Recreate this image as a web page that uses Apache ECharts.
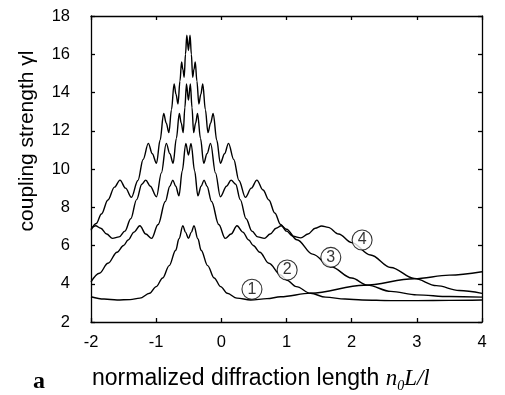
<!DOCTYPE html>
<html>
<head>
<meta charset="utf-8">
<script src="https://cdn.jsdelivr.net/npm/echarts@6/dist/echarts.min.js"></script>
<style>
html,body{margin:0;padding:0;background:#fff;}
#chart{width:505px;height:395px;}
</style>
</head>
<body>
<div id="chart"></div>
<script>
// x tick values and y tick values
var xTicks = [-2, -1, 0, 1, 2, 3, 4];
var yTicks = [2, 4, 6, 8, 10, 12, 14, 16, 18];

// curve 1 : [normalized diffraction length, coupling strength]
var curve1 = [[-2.0,3.32],[-1.8,3.2],[-1.6,3.15],[-1.4,3.17],[-1.25,3.25],[-1.1,3.5],[-1.0,3.85],[-0.9,4.3],[-0.8,4.95],[-0.7,5.75],[-0.65,6.35],[-0.59,7.03],[-0.55,6.7],[-0.505,6.37],[-0.46,6.7],[-0.42,7.03],[-0.36,6.35],[-0.31,5.75],[-0.21,4.95],[-0.11,4.3],[-0.01,3.85],[0.09,3.5],[0.24,3.25],[0.45,3.15],[0.7,3.22],[0.91,3.32],[1.37,3.51],[2.19,3.92],[2.96,4.26],[3.5,4.45],[4.0,4.63]];

// curve 2
var curve2 = [[-2.0,4.1],[-1.87,4.55],[-1.74,5.07],[-1.6,5.65],[-1.5,6.0],[-1.43,6.29],[-1.34,6.7],[-1.25,7.03],[-1.16,6.6],[-1.07,6.37],[-0.97,7.1],[-0.86,8.3],[-0.79,9.1],[-0.745,9.42],[-0.7,9.1],[-0.65,8.6],[-0.6,9.9],[-0.545,11.34],[-0.505,10.73],[-0.465,11.34],[-0.41,9.9],[-0.36,8.6],[-0.31,9.1],[-0.265,9.42],[-0.22,9.1],[-0.15,8.3],[-0.04,7.1],[0.06,6.37],[0.15,6.6],[0.24,7.03],[0.33,6.7],[0.42,6.29],[0.49,6.0],[0.59,5.65],[0.73,5.07],[0.91,4.46],[1.0,4.2],[1.15,3.85],[1.37,3.5],[1.6,3.3],[1.9,3.2],[2.16,3.15],[2.6,3.12],[3.0,3.12],[3.5,3.13],[4.0,3.15]];

// curve 3
var curve3 = [[-2.0,6.88],[-1.93,7.03],[-1.85,6.9],[-1.76,6.6],[-1.67,6.37],[-1.57,6.45],[-1.48,6.75],[-1.39,7.4],[-1.3,8.4],[-1.22,9.2],[-1.16,9.42],[-1.09,9.1],[-0.995,8.55],[-0.92,9.8],[-0.845,11.34],[-0.79,10.8],[-0.74,10.3],[-0.69,11.6],[-0.645,12.9],[-0.615,12.4],[-0.585,11.9],[-0.56,13.2],[-0.535,14.45],[-0.505,13.6],[-0.475,14.45],[-0.45,13.2],[-0.425,11.9],[-0.395,12.4],[-0.365,12.9],[-0.32,11.6],[-0.27,10.3],[-0.22,10.8],[-0.165,11.34],[-0.09,9.8],[-0.015,8.55],[0.08,9.1],[0.15,9.42],[0.22,9.2],[0.29,8.4],[0.38,7.4],[0.47,6.75],[0.56,6.45],[0.66,6.37],[0.75,6.6],[0.84,6.9],[0.92,7.03],[1.0,6.85],[1.16,6.3],[1.4,5.55],[1.68,4.89],[2.0,4.3],[2.24,3.93],[2.6,3.6],[3.0,3.42],[3.5,3.33],[4.0,3.3]];

// curve 4
var curve4 = [[-2.0,6.8],[-1.92,7.15],[-1.84,7.65],[-1.74,8.38],[-1.64,9.05],[-1.555,9.42],[-1.47,9.0],[-1.38,8.52],[-1.28,9.4],[-1.2,10.5],[-1.12,11.34],[-1.06,10.8],[-0.995,10.3],[-0.94,11.5],[-0.885,12.9],[-0.845,12.4],[-0.805,11.9],[-0.765,13.1],[-0.725,14.45],[-0.695,13.9],[-0.665,13.4],[-0.635,14.6],[-0.61,15.6],[-0.59,15.2],[-0.57,14.8],[-0.55,16.0],[-0.53,17.0],[-0.505,16.2],[-0.48,17.0],[-0.46,16.0],[-0.44,14.8],[-0.42,15.2],[-0.40,15.6],[-0.375,14.6],[-0.345,13.4],[-0.315,13.9],[-0.285,14.45],[-0.245,13.1],[-0.205,11.9],[-0.165,12.4],[-0.125,12.9],[-0.07,11.5],[-0.015,10.3],[0.05,10.8],[0.11,11.34],[0.19,10.5],[0.27,9.4],[0.37,8.52],[0.46,9.0],[0.545,9.42],[0.64,8.9],[0.73,8.38],[0.82,7.7],[0.91,7.1],[1.0,6.75],[1.1,6.48],[1.22,6.4],[1.33,6.6],[1.44,6.9],[1.54,7.02],[1.64,6.95],[1.8,6.6],[2.0,6.15],[2.29,5.5],[2.6,4.85],[2.96,4.28],[3.3,3.9],[3.65,3.65],[4.0,3.5]];

// circled curve labels: [x, y, text]
var curveLabels = [[0.47,3.71,'1'],[1.01,4.72,'2'],[1.68,5.38,'3'],[2.16,6.29,'4']];

var chart = echarts.init(document.getElementById('chart'), null, {renderer:'canvas'});

function lineSeries(d){
  return {type:'line', data:d, showSymbol:false, smooth:0.35, smoothMonotone:'x',
    lineStyle:{color:'#000', width:1.4}, z:2, silent:true};
}
var axisCommon = {
  type:'value', axisLine:{show:true, onZero:false, lineStyle:{color:'#000', width:1.3}},
  axisTick:{show:true, inside:true, length:4, lineStyle:{color:'#000', width:1.3}},
  splitLine:{show:false}
};
var option = {
  animation:false,
  backgroundColor:'#fff',
  grid:{left:91, right:23, top:16, bottom:73, containLabel:false},
  xAxis:[
    Object.assign({}, axisCommon, {position:'bottom', min:xTicks[0], max:xTicks[xTicks.length-1], interval:1,
      axisLabel:{show:true, color:'#000', fontSize:16.5, fontFamily:'Liberation Sans', margin:12}}),
    Object.assign({}, axisCommon, {position:'top', min:xTicks[0], max:xTicks[xTicks.length-1], interval:1,
      axisLabel:{show:false}})
  ],
  yAxis:[
    Object.assign({}, axisCommon, {position:'left', min:yTicks[0], max:yTicks[yTicks.length-1], interval:2,
      axisLabel:{show:true, color:'#000', fontSize:16.5, fontFamily:'Liberation Sans', margin:21}}),
    Object.assign({}, axisCommon, {position:'right', min:yTicks[0], max:yTicks[yTicks.length-1], interval:2,
      axisLabel:{show:false}})
  ],
  series:[
    lineSeries(curve1), lineSeries(curve2), lineSeries(curve3), lineSeries(curve4),
    {type:'scatter', data:curveLabels, symbol:'circle', symbolSize:20, z:5, silent:true,
      itemStyle:{color:'#fff', borderColor:'#000', borderWidth:1.1},
      label:{show:true, position:'inside', formatter:function(p){return p.data[2];},
        color:'#000', fontSize:16, fontFamily:'Liberation Sans'}}
  ],
  graphic:[
    {type:'text', x:27, y:141, rotation:Math.PI/2,
      style:{text:'coupling strength γl', font:'21px "Liberation Sans"', fill:'#000',
        align:'center', verticalAlign:'middle', textAlign:'center', textVerticalAlign:'middle'}},
    {type:'text', x:92, y:380,
      style:{text:'{s|normalized diffraction length }{i|n}{sub|0}{i|L/l}', fill:'#000',
        align:'left', verticalAlign:'middle',
        rich:{
          s:{fontFamily:'Liberation Sans', fontSize:23, verticalAlign:'bottom', padding:[0,0,3,0]},
          i:{fontFamily:'Liberation Serif', fontStyle:'italic', fontSize:23, verticalAlign:'bottom', padding:[0,0,3,0]},
          sub:{fontFamily:'Liberation Serif', fontStyle:'italic', fontSize:14, verticalAlign:'bottom'}
        }}},
    {type:'text', x:33, y:382,
      style:{text:'a', font:'bold 24px "Liberation Serif"', fill:'#000',
        align:'left', verticalAlign:'middle', textAlign:'left', textVerticalAlign:'middle'}}
  ]
};
chart.setOption(option);
</script>
</body>
</html>
